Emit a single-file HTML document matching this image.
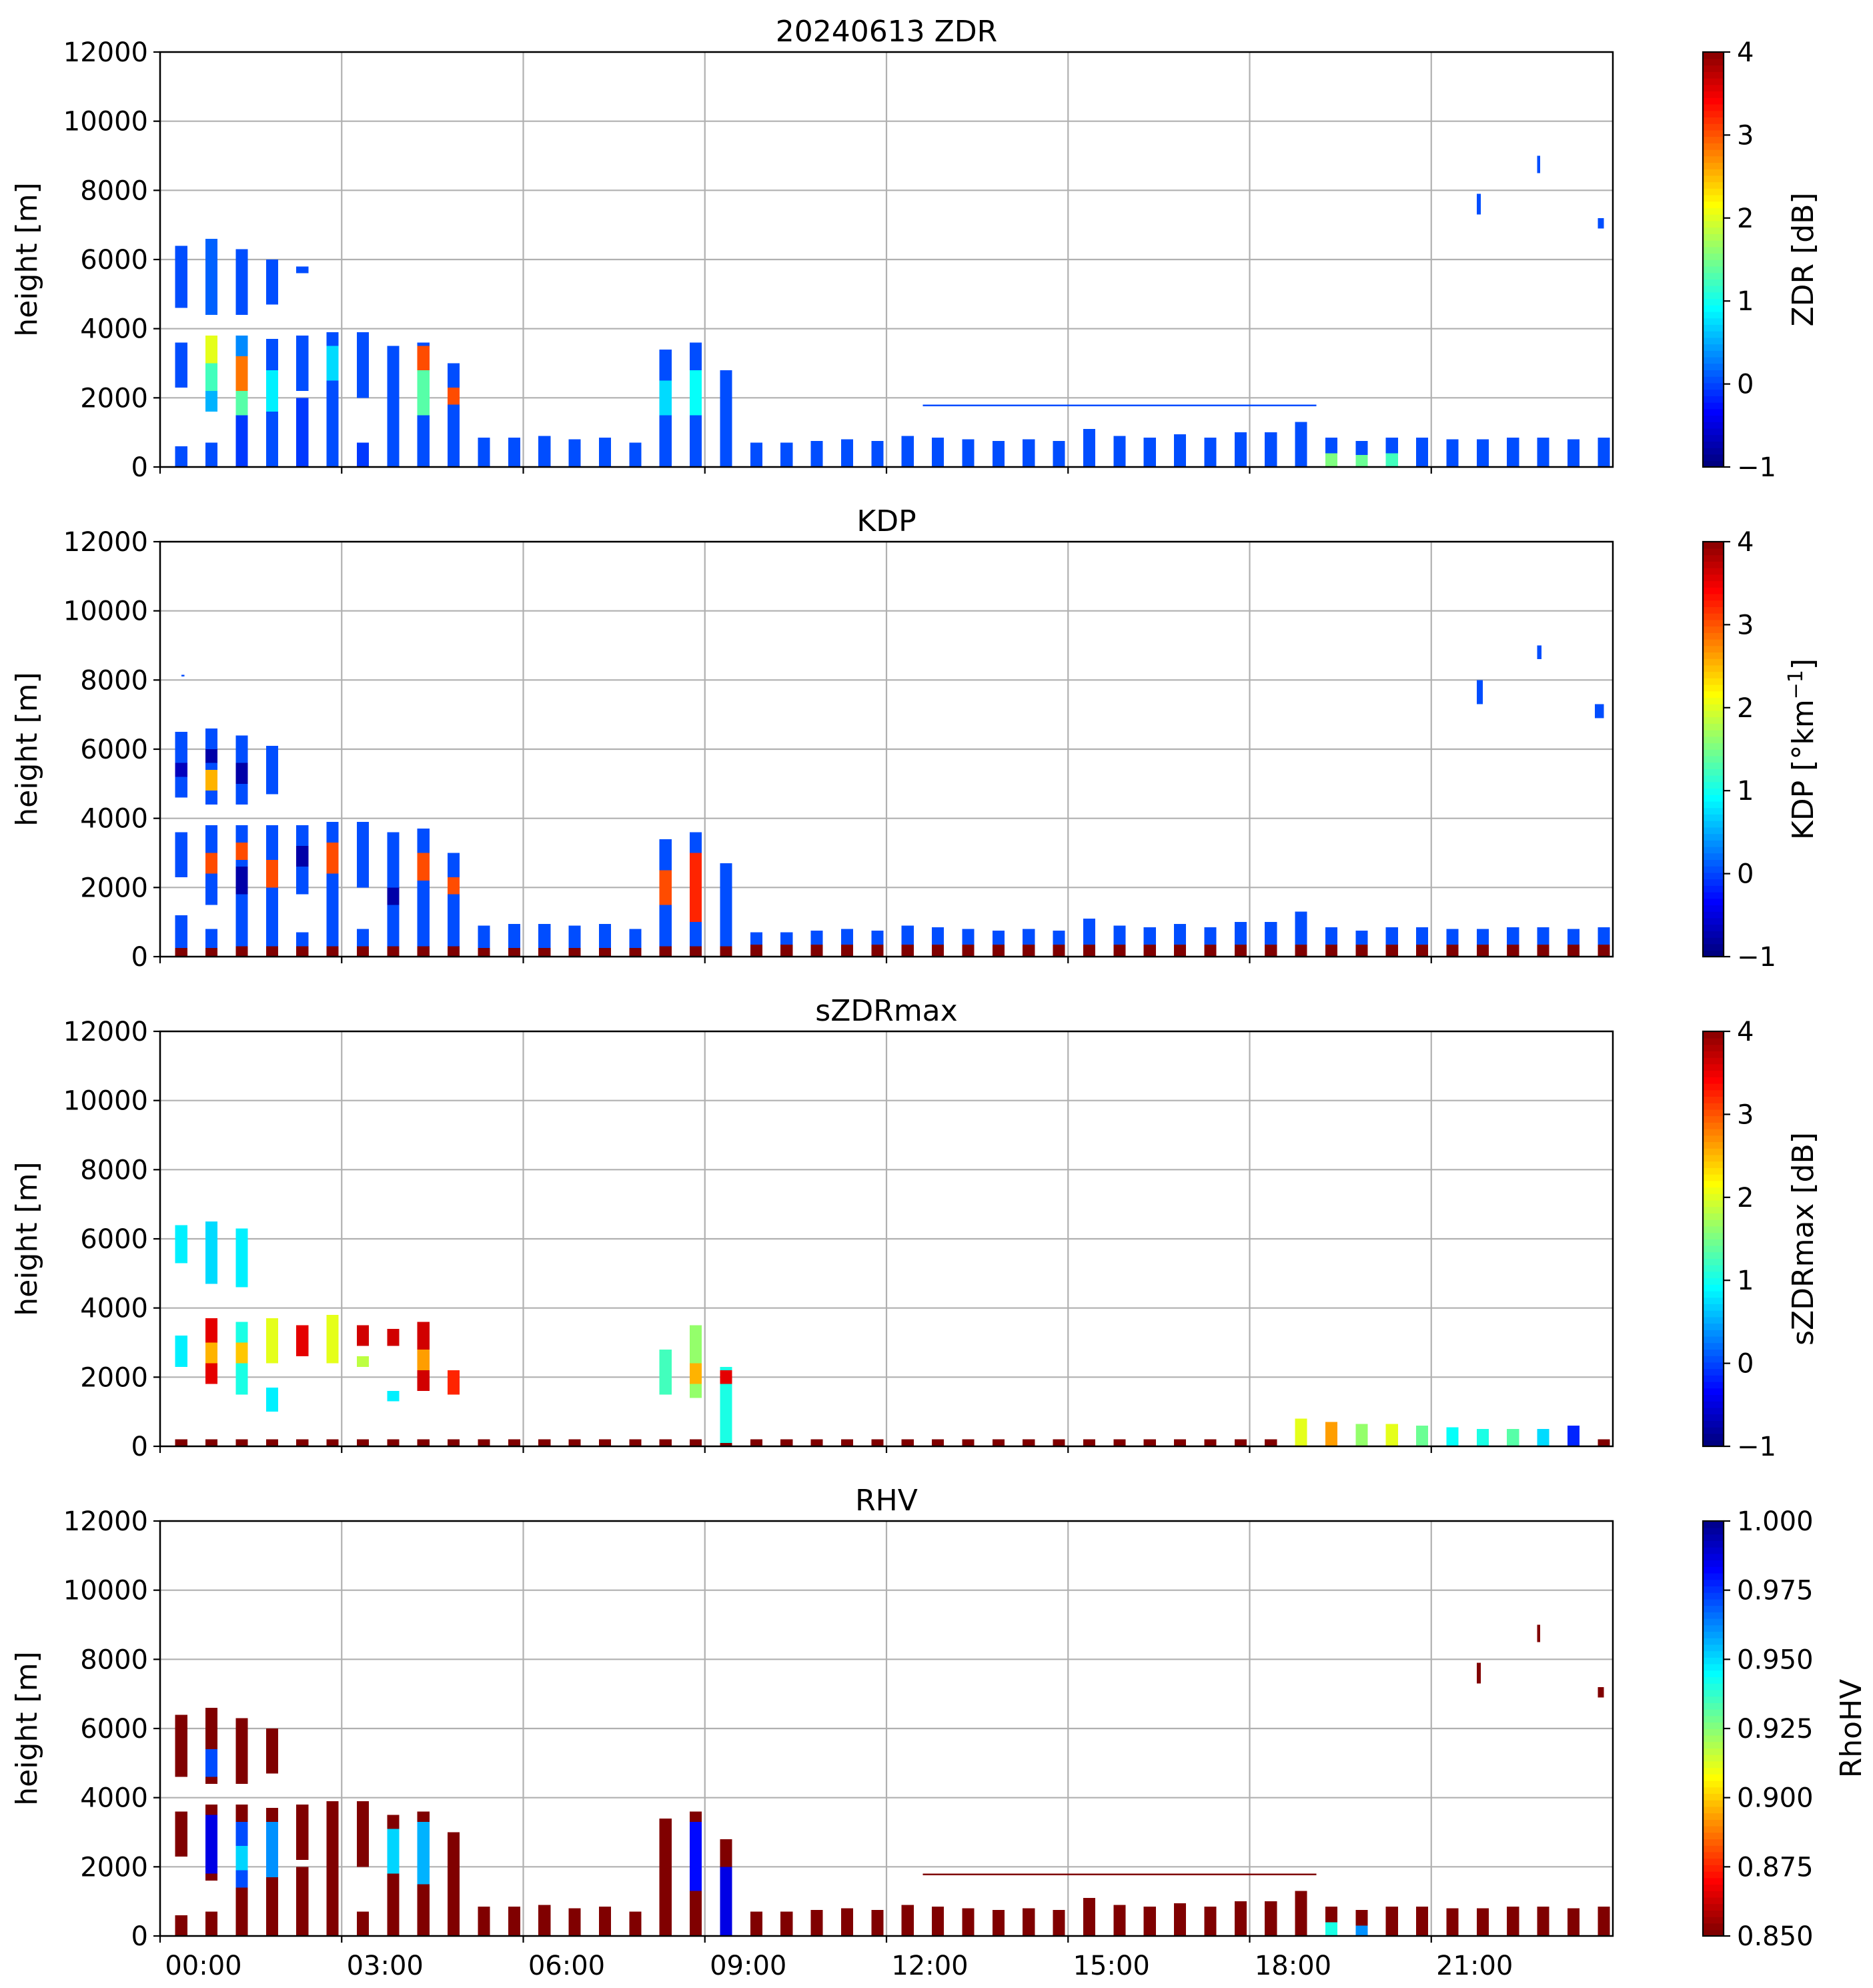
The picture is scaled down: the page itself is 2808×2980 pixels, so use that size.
<!DOCTYPE html>
<html><head><meta charset="utf-8"><style>
html,body{margin:0;padding:0;background:#fff}
svg{display:block}
text{font-family:"DejaVu Sans","Liberation Sans",sans-serif;fill:#000}
</style></head><body>
<svg id="fig" width="2808" height="2980" viewBox="0 0 2808 2980" xmlns="http://www.w3.org/2000/svg"></svg>
<script>
// ---------- data ----------
const scanStart = [0.25,0.75,1.25,1.75,2.25,2.75,3.25,3.75,4.25,4.75,5.25,5.75,6.25,6.75,7.25,7.75,8.25,8.75,9.25,9.75,10.25,10.75,11.25,11.75,12.25,12.75,13.25,13.75,14.25,14.75,15.25,15.75,16.25,16.75,17.25,17.75,18.25,18.75,19.25,19.75,20.25,20.75,21.25,21.75,22.25,22.75,23.25,23.75];
const scanDuration = 0.2;
const lowTops = [700,700,750,800,750,900,850,800,750,800,750,1100,900,850,950,850,1000,1000,1300,850,750,850,850,800,800,850,850,800,850];
const lowFirst = 19;
const timeTicks = [0,3,6,9,12,15,18,21];
const timeLabels = ["00:00","03:00","06:00","09:00","12:00","15:00","18:00","21:00"];
const heightTicks = [0,2000,4000,6000,8000,10000,12000];
const panelTitles = ["20240613 ZDR","KDP","sZDRmax","RHV"];
const cbarTicksA = [-1,0,1,2,3,4];
const cbarTicksR = [0.85,0.875,0.9,0.925,0.95,0.975,1.0];
const cbarLabelsR = ["0.850","0.875","0.900","0.925","0.950","0.975","1.000"];

// [scanIndex, bottom m, top m, value]
const zdrSegs = [
 [0,4600,6400,0.0],[0,2300,3600,0.0],[0,0,600,0.0],
 [1,4400,6600,0.1],[1,1600,2200,0.5],[1,2200,3000,1.2],[1,3000,3800,2.0],[1,0,700,0.0],
 [2,4400,6300,0.0],[2,0,1500,-0.1],[2,1500,2200,1.3],[2,2200,3200,2.8],[2,3200,3800,0.3],
 [3,4700,6000,0.0],[3,0,3700,0.0],[3,1600,2800,0.8],
 [4,2200,3800,0.0],[4,0,2000,-0.1],[4,5600,5800,0.0],
 [5,0,3900,0.0],[5,2500,3500,0.7],
 [6,2000,3900,0.0],[6,0,700,-0.1],
 [7,0,3500,0.0],
 [8,0,3600,0.0],[8,1500,3300,1.3],[8,2800,3500,3.0],
 [9,0,3000,0.0],[9,1800,2300,3.0],
 [10,0,850,0.0],[11,0,850,0.0],[12,0,900,0.0],[13,0,800,0.0],[14,0,850,0.0],[15,0,700,0.0],
 [16,0,3400,0.0],[16,1500,2500,0.7],
 [17,0,3600,0.0],[17,1500,2800,0.9],
 [18,0,2800,0.0],
 [38,0,400,1.5],[39,0,350,1.4],[40,0,400,1.2]
];
const zdrLowVal = 0.0;
// [startHour, endHour, bottom, top, value]
const zdrExtra = [[12.6,19.1,1760,1800,0.0],[21.75,21.82,7300,7900,0.0],[22.75,22.8,8500,9000,0.0],[23.75,23.85,6900,7200,0.0]];

const kdpSegs = [
 [0,4600,6500,0.0],[0,5200,5600,-0.7],[0,2300,3600,0.0],[0,0,1200,0.0],[0,0,250,4],
 [1,4400,6600,0.0],[1,4800,5400,2.5],[1,5600,6000,-0.8],[1,1500,3800,0.0],[1,2400,3000,3.0],[1,0,800,0.0],[1,0,250,4],
 [2,4400,6400,0.0],[2,5000,5600,-0.8],[2,0,3800,0.0],[2,1800,2600,-0.8],[2,2800,3300,3.0],[2,0,300,4],
 [3,4700,6100,0.0],[3,0,3800,0.0],[3,2000,2800,3.0],[3,0,300,4],
 [4,1800,3800,0.0],[4,2600,3200,-0.8],[4,0,700,0.0],[4,0,300,4],
 [5,0,3900,0.0],[5,2400,3300,3.0],[5,0,300,4],
 [6,2000,3900,0.0],[6,0,800,0.0],[6,0,300,4],
 [7,0,3600,0.0],[7,1500,2000,-0.8],[7,0,300,4],
 [8,0,3700,0.0],[8,2200,3000,3.0],[8,0,300,4],
 [9,0,3000,0.0],[9,1800,2300,3.0],[9,0,300,4],
 [10,0,900,0.0],[11,0,950,0.0],[12,0,950,0.0],[13,0,900,0.0],[14,0,950,0.0],[15,0,800,0.0],
 [16,0,3400,0.0],[16,1500,2500,3.0],[16,0,300,4],
 [17,0,3600,0.0],[17,1000,3000,3.2],[17,0,300,4],
 [18,0,2700,0.0],[18,0,300,4],
 [10,0,250,4],[11,0,250,4],[12,0,250,4],[13,0,250,4],[14,0,250,4],[15,0,250,4]
];
const kdpLowVal = 0.0;
const kdpLowBase = 4;
const kdpExtra = [[21.75,21.85,7300,8000,0.0],[22.75,22.82,8600,9000,0.0],[23.7,23.85,6900,7300,0.0],[0.35,0.4,8100,8150,0.0]];

const szdrSegs = [
 [0,5300,6400,0.8],[0,2300,3200,0.8],
 [1,4700,6500,0.7],[1,1800,3700,3.5],[1,2400,3000,2.5],
 [2,4600,6300,0.8],[2,1500,3600,1.0],[2,2400,3000,2.4],
 [3,2400,3700,2.0],[3,1000,1700,0.8],
 [4,2600,3500,3.5],
 [5,2400,3800,2.0],
 [6,2900,3500,3.6],[6,2300,2600,1.8],
 [7,2900,3400,3.6],[7,1300,1600,0.8],
 [8,1600,3600,3.6],[8,2200,2800,2.6],
 [9,1500,2200,3.2],
 [16,1500,2800,1.2],[17,1400,3500,1.6],[17,1800,2400,2.5],[18,100,2300,1.0],[18,1800,2200,3.5]
];
const szdrLowTop = 200;
const szdrLowVal = 4;
const szdrLate = [[37,0,800,2.0],[38,0,700,2.6],[39,0,650,1.6],[40,0,650,2.0],[41,0,600,1.4],[42,0,550,0.9],[43,0,500,1.0],[44,0,500,1.3],[45,0,500,0.7],[46,0,600,-0.2]];

const rhvSegs = [
 [0,4600,6400,0.85],[0,2300,3600,0.85],[0,0,600,0.85],
 [1,4400,6600,0.85],[1,4600,5400,0.97],[1,1600,3800,0.85],[1,1800,3500,0.985],[1,0,700,0.85],
 [2,4400,6300,0.85],[2,0,3800,0.85],[2,1400,3300,0.97],[2,1900,2600,0.95],
 [3,4700,6000,0.85],[3,0,3700,0.85],[3,1700,3300,0.96],
 [4,2200,3800,0.85],[4,0,2000,0.85],
 [5,0,3900,0.85],
 [6,2000,3900,0.85],[6,0,700,0.85],
 [7,0,3500,0.85],[7,1800,3100,0.95],
 [8,0,3600,0.85],[8,1500,3300,0.955],
 [9,0,3000,0.85],
 [10,0,850,0.85],[11,0,850,0.85],[12,0,900,0.85],[13,0,800,0.85],[14,0,850,0.85],[15,0,700,0.85],
 [16,0,3400,0.85],
 [17,0,3600,0.85],[17,1300,3300,0.98],
 [18,0,2800,0.85],[18,0,2000,0.985],
 [38,0,400,0.94],[39,0,300,0.96]
];
const rhvLowVal = 0.85;
const rhvExtra = [[12.6,19.1,1760,1800,0.85],[21.75,21.82,7300,7900,0.85],[22.75,22.8,8500,9000,0.85],[23.75,23.85,6900,7200,0.85]];

// ---------- layout ----------
const NS = "http://www.w3.org/2000/svg";
const svg = document.getElementById('fig');
const AX_L = 240, AX_R = 2418, AX_H = 622, PANEL_STEP = 734, TOP0 = 78;
const CB_L = 2553, CB_W = 31;
function xs(t){ return AX_L + t*(AX_R-AX_L)/24; }
function ys(p,h){ return TOP0 + p*PANEL_STEP + AX_H*(1 - h/12000); }
function mk(tag, attrs, parent){
  const e = document.createElementNS(NS, tag);
  for (const k in attrs) e.setAttribute(k, attrs[k]);
  (parent||svg).appendChild(e);
  return e;
}
function jet(v){
  v = Math.max(0, Math.min(1, v));
  const c = x => Math.round(255*Math.max(0, Math.min(1, x)));
  return `rgb(${c(1.5-Math.abs(4*v-3))},${c(1.5-Math.abs(4*v-2))},${c(1.5-Math.abs(4*v-1))})`;
}
function normA(v){ return (v+1)/5; }
function normR(v){ return 1-(v-0.85)/0.15; }

const panels = [
 {segs:zdrSegs, low:zdrLowVal, lowBase:null, extra:zdrExtra, norm:normA, cbl:"ZDR [dB]", name:"zdr"},
 {segs:kdpSegs, low:kdpLowVal, lowBase:kdpLowBase, extra:kdpExtra, norm:normA, cbl:"KDP", name:"kdp"},
 {segs:szdrSegs, low:null, lowBase:null, extra:[], norm:normA, cbl:"sZDRmax [dB]", name:"szdrmax"},
 {segs:rhvSegs, low:rhvLowVal, lowBase:null, extra:rhvExtra, norm:normR, cbl:"RhoHV", name:"rhv"}
];

panels.forEach((P, p) => {
  const top = TOP0 + p*PANEL_STEP, bot = top + AX_H;
  const g = mk('g', {});
  
  
  heightTicks.forEach(h => { const l = mk('line', {x1:AX_L, x2:AX_R, y1:ys(p,h), y2:ys(p,h), stroke:'#b0b0b0', 'stroke-width':2.2}, g);
      });
  timeTicks.forEach(t => { const l = mk('line', {x1:xs(t), x2:xs(t), y1:top, y2:bot, stroke:'#b0b0b0', 'stroke-width':2.2}, g);
      });
  const dg = mk('g', {'shape-rendering':'crispEdges'}, g);
  
  
  function rect(t0, t1, b, tp, v){
    const r = mk('rect', {x:xs(t0), y:ys(p,tp), width:Math.max(1,xs(t1)-xs(t0)), height:Math.max(2,ys(p,b)-ys(p,tp)), fill:jet(P.norm(v))}, dg);
    
    
  }
  if (P.low !== null) lowTops.forEach((h,i) => rect(scanStart[lowFirst+i], scanStart[lowFirst+i]+scanDuration, 0, h, P.low));
  if (P.lowBase !== null) lowTops.forEach((h,i) => rect(scanStart[lowFirst+i], scanStart[lowFirst+i]+scanDuration, 0, 350, P.lowBase));
  if (p === 2) scanStart.forEach(t => rect(t, t+scanDuration, 0, szdrLowTop, szdrLowVal));
  P.segs.forEach(s => rect(scanStart[s[0]], scanStart[s[0]]+scanDuration, s[1], s[2], s[3]));
  if (p === 2) szdrLate.forEach(s => rect(scanStart[s[0]], scanStart[s[0]]+scanDuration, s[1], s[2], s[3]));
  P.extra.forEach(s => rect(s[0], s[1], s[2], s[3], s[4]));
  const sp = mk('rect', {x:AX_L, y:top, width:AX_R-AX_L, height:AX_H, fill:'none', stroke:'#000', 'stroke-width':2.5}, g);
   
  heightTicks.forEach(h => {
    mk('line', {x1:AX_L-10, x2:AX_L, y1:ys(p,h), y2:ys(p,h), stroke:'#000', 'stroke-width':2.2}, g);
    const tx = mk('text', {x:AX_L-18, y:ys(p,h)+14, 'text-anchor':'end', 'font-size':40}, g);
    tx.textContent = h;
     
  });
  timeTicks.forEach((t,i) => {
    mk('line', {x1:xs(t), x2:xs(t), y1:bot, y2:bot+10, stroke:'#000', 'stroke-width':2.2}, g);
    if (p === 3) {
      const tx = mk('text', {x:xs(t)+65, y:bot+58, 'text-anchor':'middle', 'font-size':40}, g);
      tx.textContent = timeLabels[i];
       
    }
  });
  const yl = mk('text', {x:0, y:0, transform:`translate(55,${top+AX_H/2}) rotate(-90)`, 'text-anchor':'middle', 'font-size':44}, g);
  yl.textContent = 'height [m]';
   
  const tt = mk('text', {x:(AX_L+AX_R)/2, y:top-16, 'text-anchor':'middle', 'font-size':44}, g);
  tt.textContent = panelTitles[p];
   
  const cg = mk('g', {}, g);
  
  
  const nSteps = 64;
  for (let i = 0; i < nSteps; i++) {
    const v = (p === 3) ? (1 - i/nSteps) : (i/nSteps);
    mk('rect', {x:CB_L, y:bot - (i+1)*AX_H/nSteps, width:CB_W, height:AX_H/nSteps+0.8, fill:jet(v)}, cg);
  }
  mk('rect', {x:CB_L, y:top, width:CB_W, height:AX_H, fill:'none', stroke:'#000', 'stroke-width':2.2}, cg);
  const ticks = (p === 3) ? cbarTicksR : cbarTicksA;
  ticks.forEach((v,i) => {
    const n = (p === 3) ? 1-normR(v) : normA(v);
    const yy = bot - n*AX_H;
    mk('line', {x1:CB_L+CB_W, x2:CB_L+CB_W+10, y1:yy, y2:yy, stroke:'#000', 'stroke-width':2.2}, cg);
    const tx = mk('text', {x:CB_L+CB_W+20, y:yy+14, 'font-size':40}, cg);
    tx.textContent = (p === 3) ? cbarLabelsR[i] : (v < 0 ? '\u2212' + Math.abs(v) : String(v));
     
  });
  const lx = (p === 3) ? 2790 : 2718;
  const cl = mk('text', {x:0, y:0, transform:`translate(${lx},${top+AX_H/2}) rotate(-90)`, 'text-anchor':'middle', 'font-size':44}, cg);
  if (p === 1) {
    cl.textContent = 'KDP [\u00b0km';
    const sup = mk('tspan', {'font-size':30, dy:-16}, cl); sup.textContent = '\u22121';
    const cls = mk('tspan', {dy:16}, cl); cls.textContent = ']';
  } else cl.textContent = P.cbl;
   
});
</script>
</body></html>
